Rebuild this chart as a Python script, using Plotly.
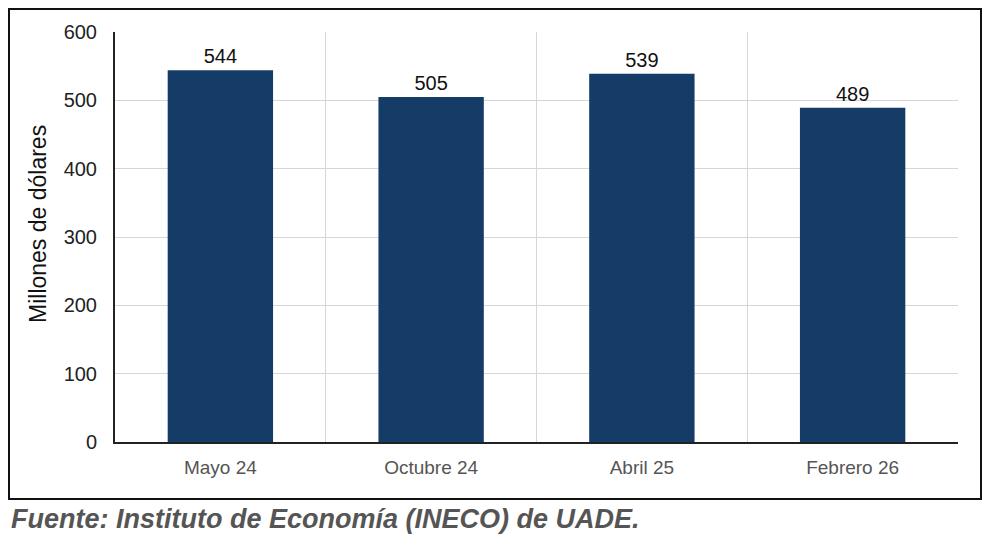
import plotly.graph_objects as go

categories = ["Mayo 24", "Octubre 24", "Abril 25", "Febrero 26"]
values = [544, 505, 539, 489]
y_ticks = [0, 100, 200, 300, 400, 500, 600]
y_title = "Millones de dólares"
source = "Fuente: Instituto de Economía (INECO) de UADE."

fig = go.Figure()
fig.add_trace(go.Bar(
    x=categories, y=values,
    marker=dict(color="#153c66", line=dict(width=0)),
    width=0.5,
    text=[str(v) for v in values],
    textposition="outside",
    textfont=dict(family="Liberation Sans, Arial", size=20, color="#111"),
    cliponaxis=False,
))

fig.update_layout(
    width=990, height=554,
    margin=dict(l=115, r=32, t=32, b=112),
    paper_bgcolor="white", plot_bgcolor="white",
    showlegend=False,
    font=dict(family="Liberation Sans, Arial"),
    xaxis=dict(
        type="category",
        tickson="boundaries",
        showgrid=True, gridcolor="#d6d6d6", gridwidth=1,
        showline=True, linecolor="#222", linewidth=2,
        ticks="", ticklen=0,
        tickfont=dict(size=19, color="#555"),
        ticklabelstandoff=7,
    ),
    yaxis=dict(
        range=[0, 600],
        tickvals=y_ticks,
        showgrid=True, gridcolor="#d6d6d6", gridwidth=1,
        showline=True, linecolor="#222", linewidth=2,
        zeroline=False,
        ticks="",
        tickfont=dict(size=20, color="#222"),
        ticklabelstandoff=12,
    ),
    bargap=0.5,
)

# Y axis title (placed slightly above centre, as in the reference)
fig.add_annotation(
    text=y_title, textangle=-90,
    xref="paper", yref="paper",
    x=(38 - 115) / 843, y=(442 - 224) / 410,
    xanchor="center", yanchor="middle", showarrow=False,
    font=dict(family="Liberation Sans, Arial", size=23, color="#111"),
)

# Outer frame box
fig.add_shape(type="rect", xref="paper", yref="paper",
              x0=(9 - 115) / 843, x1=(981 - 115) / 843,
              y0=(442 - 499) / 410, y1=(442 - 9) / 410,
              line=dict(color="#111", width=2), fillcolor="rgba(0,0,0,0)",
              layer="above")

fig.add_annotation(
    text="<b><i>" + source + "</i></b>",
    xref="paper", yref="paper",
    x=(9 - 115) / 843, y=(442 - 519) / 410,
    xanchor="left", yanchor="middle", showarrow=False,
    font=dict(family="Liberation Sans, Arial", size=27, color="#555"),
)

fig.write_html("out.html")
